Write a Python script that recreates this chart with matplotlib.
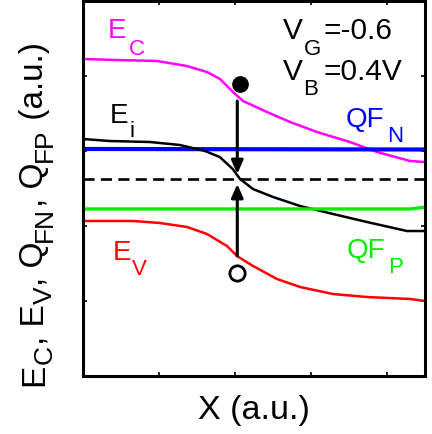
import matplotlib
matplotlib.use("Agg")
import matplotlib.pyplot as plt
from matplotlib.transforms import IdentityTransform

plt.rcParams["font.family"] = ["Liberation Sans", "DejaVu Sans"]

# Band profiles along the channel (position in a.u., energy in a.u.)
x_ec = [0.0, 0.447, 0.974, 1.368, 1.632, 1.803, 1.974, 2.105, 2.421, 2.724, 3.079, 3.513, 3.868, 4.303, 4.5]
y_ec = [4.227, 4.213, 4.200, 4.133, 4.053, 3.960, 3.787, 3.667, 3.520, 3.387, 3.253, 3.120, 2.987, 2.867, 2.853]

x_ei = [0.0, 0.355, 0.88, 1.276, 1.605, 1.8, 1.97, 2.066, 2.237, 2.5, 2.855, 3.29, 3.737, 4.263, 4.5]
y_ei = [3.160, 3.133, 3.120, 3.080, 3.000, 2.920, 2.760, 2.627, 2.493, 2.387, 2.267, 2.160, 2.053, 1.933, 1.933]

x_ev = [0.0, 0.658, 1.013, 1.368, 1.632, 1.895, 2.026, 2.237, 2.553, 2.855, 3.29, 3.737, 4.303, 4.5]
y_ev = [2.067, 2.067, 2.040, 1.987, 1.893, 1.733, 1.600, 1.467, 1.293, 1.187, 1.093, 1.053, 1.027, 1.000]

# Quasi-Fermi levels and reference level
x_qfn = [0.0, 4.5]
y_qfn = [3.027, 3.020]
x_qfp = [0.0, 4.3, 4.5]
y_qfp = [2.227, 2.227, 2.250]
x_ref = [0.0, 4.5]
y_ref = [2.627, 2.627]

# Carriers and transitions
electron = (2.07, 3.893)
hole = (2.02, 1.373)
arrow_down = ((2.03, 3.667), (2.03, 2.693))
arrow_up = ((2.03, 1.600), (2.03, 2.560))

# Y-axis label as (text, is_subscript) pieces
ylabel_parts = [("E", False), ("C", True), (", E", False), ("V", True),
                (", Q", False), ("FN", True), (", Q", False), ("FP", True),
                (" (a.u.)", False)]

fig = plt.figure(figsize=(4.32, 4.35), dpi=100)
ax = fig.add_axes([83 / 432, (435 - 377) / 435, 342 / 432, 375 / 435])

ax.plot(x_ec, y_ec, color="#ff00ff", lw=1.8)
ax.plot(x_qfn, y_qfn, color="#0000ff", lw=3.0)
ax.plot(x_ref, y_ref, color="black", lw=1.9, ls=(0, (4.2, 2.4)))
ax.plot(x_ei, y_ei, color="black", lw=1.8)
ax.plot(x_qfp, y_qfp, color="#00ee00", lw=2.4)
ax.plot(x_ev, y_ev, color="#ff0000", lw=1.8)

for (x0, y0), (x1, y1) in (arrow_down, arrow_up):
    ax.annotate("", xy=(x1, y1), xytext=(x0, y0),
                arrowprops=dict(arrowstyle="-|>,head_length=0.8,head_width=0.35",
                                color="black", lw=2.2, shrinkA=0, shrinkB=0),
                zorder=5)

ax.plot(*electron, marker="o", ms=11, color="black", zorder=6)
ax.plot(*hole, marker="o", ms=11, mfc="white", mec="black", mew=2, zorder=6)


def label(x, y, main, sub, color, size=20, subsize=16, sub_dx=0.27, sub_dy=-0.213, tail=None, tail_dx=0.0):
    ax.text(x, y, main, color=color, fontsize=size, ha="left", va="baseline")
    ax.text(x + sub_dx, y + sub_dy, sub, color=color, fontsize=subsize, ha="left", va="baseline")
    if tail is not None:
        ax.text(x + tail_dx, y, tail, color=color, fontsize=size, ha="left", va="baseline")


label(0.329, 4.52, "E", "C", "#ff00ff", sub_dx=0.28, sub_dy=-0.227)
label(0.355, 3.387, "E", "i", "black", sub_dx=0.26, sub_dy=-0.187)
label(0.395, 1.56, "E", "V", "#ff0000", sub_dx=0.25, sub_dy=-0.2)
label(3.45, 3.333, "QF", "N", "#0000ff", sub_dx=0.55, sub_dy=-0.2)
label(3.474, 1.587, "QF", "P", "#00ee00", sub_dx=0.54, sub_dy=-0.2)
label(2.632, 4.507, "V", "G", "black", size=21.5, subsize=16, sub_dx=0.27, sub_dy=-0.213,
      tail="=-0.6", tail_dx=0.53)
label(2.632, 3.96, "V", "B", "black", size=21.5, subsize=16, sub_dx=0.27, sub_dy=-0.2,
      tail="=0.4V", tail_dx=0.53)

ax.set_xlim(0, 4.5)
ax.set_ylim(0, 5)
ax.set_xticks([1, 2, 3, 4])
ax.set_yticks([1, 2, 3, 4])
ax.tick_params(direction="in", length=3, width=1.2, top=True, right=True,
               labelbottom=False, labelleft=False)
for s in ax.spines.values():
    s.set_linewidth(2.2)

ax.set_xlabel("X (a.u.)", fontsize=24.5, labelpad=13)

# Rotated y label built piece by piece so subscripts sit lower and larger
renderer = fig.canvas.get_renderer()
base_x, cur_y = 43.0, 435 - 386.0
for text, is_sub in ylabel_parts:
    t = fig.text(base_x + (9 if is_sub else 0), cur_y, text,
                 fontsize=19 if is_sub else 24, rotation=90, rotation_mode="anchor",
                 ha="left", va="baseline", transform=IdentityTransform())
    cur_y = t.get_window_extent(renderer).y1

fig.savefig("out.png", dpi=100)
